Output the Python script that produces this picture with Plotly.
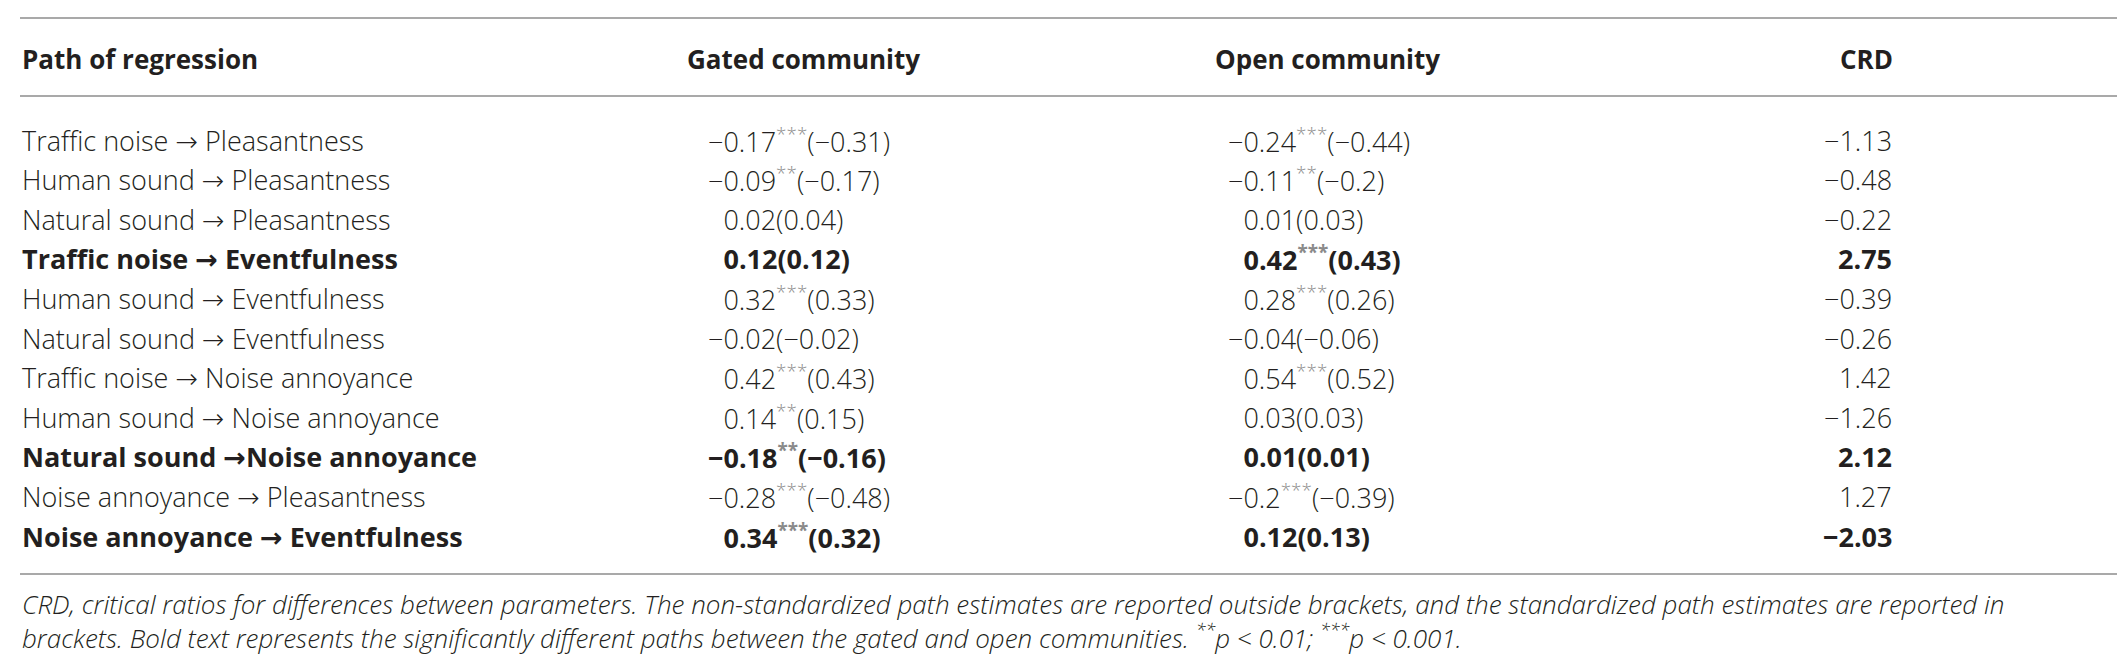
import plotly.graph_objects as go

# Table content
paths = [
    "Traffic noise → Pleasantness",
    "Human sound → Pleasantness",
    "Natural sound → Pleasantness",
    "Traffic noise → Eventfulness",
    "Human sound → Eventfulness",
    "Natural sound → Eventfulness",
    "Traffic noise → Noise annoyance",
    "Human sound → Noise annoyance",
    "Natural sound →Noise annoyance",
    "Noise annoyance → Pleasantness",
    "Noise annoyance → Eventfulness",
]
gated_est = ["−0.17", "−0.09", "0.02", "0.12", "0.32", "−0.02", "0.42", "0.14", "−0.18", "−0.28", "0.34"]
gated_sig = ["***", "**", "", "", "***", "", "***", "**", "**", "***", "***"]
gated_std = ["−0.31", "−0.17", "0.04", "0.12", "0.33", "−0.02", "0.43", "0.15", "−0.16", "−0.48", "0.32"]
open_est = ["−0.24", "−0.11", "0.01", "0.42", "0.28", "−0.04", "0.54", "0.03", "0.01", "−0.2", "0.12"]
open_sig = ["***", "**", "", "***", "***", "", "***", "", "", "***", ""]
open_std = ["−0.44", "−0.2", "0.03", "0.43", "0.26", "−0.06", "0.52", "0.03", "0.01", "−0.39", "0.13"]
crd = ["−1.13", "−0.48", "−0.22", "2.75", "−0.39", "−0.26", "1.42", "−1.26", "2.12", "1.27", "−2.03"]
significant = [False, False, False, True, False, False, False, False, True, False, True]

headers = ["Path of regression", "Gated community", "Open community", "CRD"]
footnote = [
    "CRD, critical ratios for differences between parameters. The non-standardized path estimates are reported outside "
    "brackets, and the standardized path estimates are reported in",
    "brackets. Bold text represents the significantly different paths between the gated and open communities. "
    "<sup>**</sup>p < 0.01; <sup>***</sup>p < 0.001.",
]

W, H = 2125, 660
ROW0, ROWH = 132, 39.6  # pixel centre of first row, row pitch
FONT = "Open Sans, Liberation Sans, Arial, sans-serif"
SIZE = 27
INK = "#231f20"
RULE = "#8c8c8c"
# Open Sans has no arrow glyph, borrow a fuller one
ARROW = f'<span style="font-family:\'DejaVu Sans\';font-size:{SIZE}px">→</span>'


def row_y(px):
    # convert a pixel height into the row-index units of the y axis
    return (px - ROW0) / ROWH


def cell(est, sig, std):
    # invisible minus keeps the digits of positive values lined up
    ghost = "" if est.startswith("−") else \
        f'<span style="color:rgba(0,0,0,0);font-size:{SIZE}px">−</span>'
    star = f'<sup style="color:#8a8a8a">{sig}</sup>' if sig else ""
    return f"{ghost}{est}{star}({std})"


fig = go.Figure()
annos = []

body = dict(family=FONT, size=SIZE, color=INK, weight=300)
bold = dict(family=FONT, size=SIZE, color=INK, weight=700)

for i, p in enumerate(paths):
    f = bold if significant[i] else body
    annos.append(dict(x=12, y=i, text=p.replace("→", ARROW), xanchor="left", font=f))
    annos.append(dict(x=698, y=i, text=cell(gated_est[i], gated_sig[i], gated_std[i]),
                      xanchor="left", font=f))
    annos.append(dict(x=1218, y=i, text=cell(open_est[i], open_sig[i], open_std[i]),
                      xanchor="left", font=f))
    annos.append(dict(x=1886, y=i, text=crd[i], xanchor="right", font=f))

hdr_font = dict(family=FONT, size=26, color=INK, weight=700)
for txt, x, anchor in zip(headers, [12, 677, 1205, 1887], ["left", "left", "left", "right"]):
    annos.append(dict(x=x, y=row_y(51), text=txt, xanchor=anchor, font=hdr_font))

# footnote as one two-line block
foot_font = dict(family=FONT, size=26, color=INK, weight=300, style="italic")
annos.append(dict(x=12, y=row_y(613), text="<br>".join(footnote), xanchor="left",
                  align="left", font=foot_font))

for a in annos:
    a.update(xref="x", yref="y", showarrow=False, yanchor="middle")

# horizontal rules: top, under header, bottom
for py in [10, 88, 566]:
    fig.add_shape(type="line", xref="x", yref="y", x0=12, x1=2112, y0=row_y(py), y1=row_y(py),
                  line=dict(color=RULE, width=1.6))

fig.update_layout(
    width=W, height=H,
    margin=dict(l=0, r=0, t=0, b=0),
    paper_bgcolor="white", plot_bgcolor="white",
    annotations=annos,
    showlegend=False,
    xaxis=dict(range=[0, W], visible=False, fixedrange=True),
    yaxis=dict(range=[row_y(H), row_y(0)], visible=False, fixedrange=True),
)

fig.write_html("out.html")
